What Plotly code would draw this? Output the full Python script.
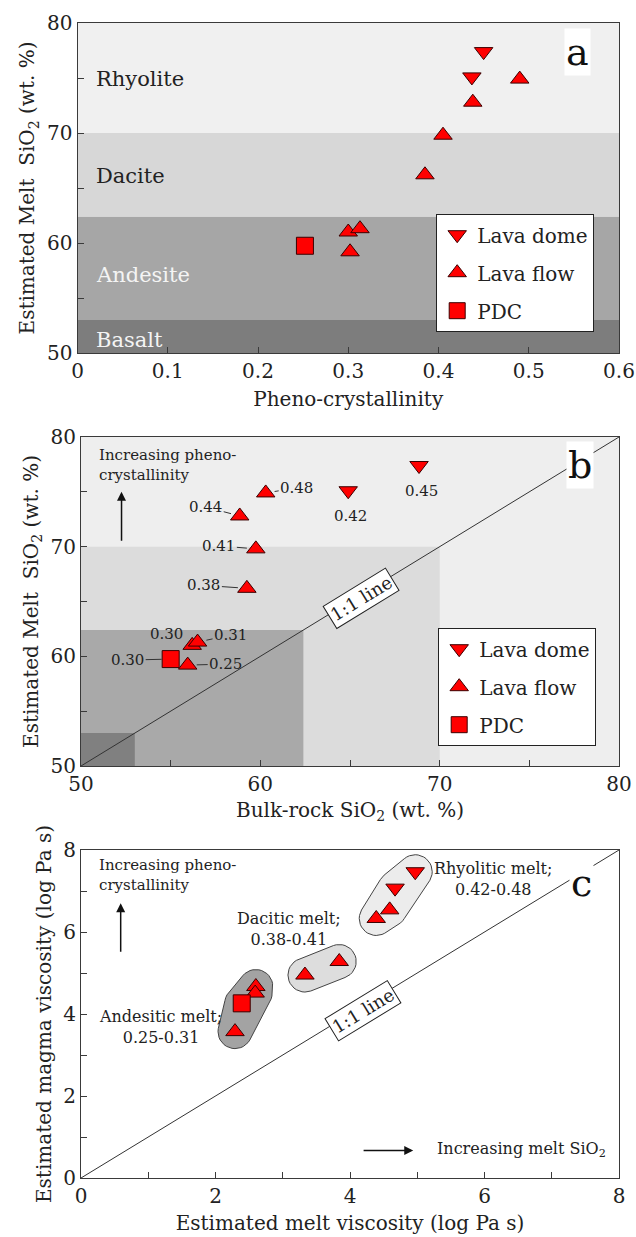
import numpy as np
import plotly.graph_objects as go

FONT = "DejaVu Serif"
RED = "#ff0000"
EDGE = "#3a0000"
AXC = "#3a3a3a"
TXT = "#222222"

# ---------------- data ----------------
# panel a / b : lava dome (triangle-down)
dome_pheno = [0.450, 0.437]
dome_melt = [77.4, 75.1]
dome_bulk = [68.85, 64.9]
dome_labels = ["0.45", "0.42"]

# lava flow (triangle-up)
flow_pheno = [0.490, 0.438, 0.405, 0.385, 0.300, 0.313, 0.302]
flow_melt = [74.9, 72.8, 69.8, 66.2, 61.0, 61.3, 59.2]
flow_bulk = [60.3, 58.85, 59.75, 59.25, 56.2, 56.5, 55.95]
flow_labels = ["0.48", "0.44", "0.41", "0.38", "0.30", "0.31", "0.25"]

# PDC (square)
pdc_pheno = [0.252]
pdc_melt = [59.75]
pdc_bulk = [55.0]
pdc_labels = ["0.30"]

# rock-type boundaries (wt.% SiO2)
band_names = ["Basalt", "Andesite", "Dacite", "Rhyolite"]
band_limits = [50, 53, 62.4, 70, 80]

# panel c : viscosities (log Pa s)
c_dome_melt = [4.97, 4.67]
c_dome_magma = [7.47, 7.07]
c_dome_group = ["R", "R"]
c_flow_melt = [4.59, 4.39, 3.84, 3.33, 2.60, 2.59, 2.29]
c_flow_magma = [6.54, 6.33, 5.28, 4.95, 4.67, 4.51, 3.57]
c_flow_group = ["R", "R", "D", "D", "A", "A", "A"]
c_pdc_melt = [2.39]
c_pdc_magma = [4.26]
c_pdc_group = ["A"]
group_keys = ["A", "D", "R"]
group_names = ["Andesitic melt;<br>0.25-0.31", "Dacitic melt;<br>0.38-0.41",
               "Rhyolitic melt;<br>0.42-0.48"]

one_to_one_b = [50, 80]
one_to_one_c = [0, 8]

# ---------------- styles / layout positions ----------------
band_fill_a = ["#7d7d7d", "#a6a6a6", "#d7d7d7", "#f0f0f0"]
band_text_col = ["#f4f4f4", "#f4f4f4", TXT, TXT]
band_label_y = [51.2, 57.1, 66.1, 74.9]
band_fill_b = ["#808080", "#a9a9a9", "#dcdcdc", "#eeeeee"]
group_fill = {"A": "#a3a3a3", "D": "#dddddd", "R": "#ececec"}
group_label_pos = [(1.18, 3.68), (3.09, 6.07), (6.12, 7.30)]

# label offsets (px) for panel b
dome_off = [(2, 25), (2, 25)]
flow_off = [(31, -5), (-34, -9), (-37, -3), (-43, -3), (-26, -11), (33, -7), (38, -1)]
pdc_off = [(-43, 1)]

W, H = 636, 1237
def px_dom_x(a, b):
    return [a / W, b / W]
def px_dom_y(top, bot):
    return [1 - bot / H, 1 - top / H]

TRI = 16
SQ = 17

fig = go.Figure()

def mk(symbol, size):
    return dict(symbol=symbol, size=size, color=RED, line=dict(color=EDGE, width=1))

# ---- panel a ----
fig.add_trace(go.Scatter(x=dome_pheno, y=dome_melt, mode="markers", name="Lava dome",
                         marker=mk("triangle-down", TRI), xaxis="x", yaxis="y",
                         legend="legend", legendgroup="a1"))
fig.add_trace(go.Scatter(x=flow_pheno, y=flow_melt, mode="markers", name="Lava flow",
                         marker=mk("triangle-up", TRI), xaxis="x", yaxis="y",
                         legend="legend", legendgroup="a2"))
fig.add_trace(go.Scatter(x=pdc_pheno, y=pdc_melt, mode="markers", name="PDC",
                         marker=mk("square", SQ), xaxis="x", yaxis="y",
                         legend="legend", legendgroup="a3"))

# ---- panel b ----
fig.add_trace(go.Scatter(x=one_to_one_b, y=one_to_one_b, mode="lines",
                         line=dict(color="#333333", width=1), showlegend=False,
                         xaxis="x2", yaxis="y2", hoverinfo="skip"))
fig.add_trace(go.Scatter(x=dome_bulk, y=dome_melt, mode="markers", name="Lava dome",
                         marker=mk("triangle-down", TRI), xaxis="x2", yaxis="y2",
                         legend="legend2", legendgroup="b1"))
fig.add_trace(go.Scatter(x=flow_bulk, y=flow_melt, mode="markers", name="Lava flow",
                         marker=mk("triangle-up", TRI), xaxis="x2", yaxis="y2",
                         legend="legend2", legendgroup="b2"))
fig.add_trace(go.Scatter(x=pdc_bulk, y=pdc_melt, mode="markers", name="PDC",
                         marker=mk("square", SQ), xaxis="x2", yaxis="y2",
                         legend="legend2", legendgroup="b3"))

# ---- panel c ----
def rounded_hull(xs, ys, rx, ry, n=36):
    pts = []
    for x, y in zip(xs, ys):
        for t in np.linspace(0, 2 * np.pi, n, endpoint=False):
            pts.append((x + rx * np.cos(t), y + ry * np.sin(t)))
    pts = sorted(set(pts))
    def cross(o, a, b):
        return (a[0] - o[0]) * (b[1] - o[1]) - (a[1] - o[1]) * (b[0] - o[0])
    lower, upper = [], []
    for p in pts:
        while len(lower) >= 2 and cross(lower[-2], lower[-1], p) <= 0:
            lower.pop()
        lower.append(p)
    for p in reversed(pts):
        while len(upper) >= 2 and cross(upper[-2], upper[-1], p) <= 0:
            upper.pop()
        upper.append(p)
    hull = lower[:-1] + upper[:-1]
    hull.append(hull[0])
    return [p[0] for p in hull], [p[1] for p in hull]

all_melt = c_dome_melt + c_flow_melt + c_pdc_melt
all_magma = c_dome_magma + c_flow_magma + c_pdc_magma
all_group = c_dome_group + c_flow_group + c_pdc_group
RPX = 17
rx, ry = RPX / 67.25, RPX / 41.0
for g in group_keys:
    gx = [m for m, k in zip(all_melt, all_group) if k == g]
    gy = [m for m, k in zip(all_magma, all_group) if k == g]
    hx, hy = rounded_hull(gx, gy, rx, ry)
    fig.add_trace(go.Scatter(x=hx, y=hy, mode="lines", fill="toself",
                             fillcolor=group_fill[g], line=dict(color="#444444", width=1),
                             showlegend=False, xaxis="x3", yaxis="y3", hoverinfo="skip"))

fig.add_trace(go.Scatter(x=one_to_one_c, y=one_to_one_c, mode="lines",
                         line=dict(color="#333333", width=1), showlegend=False,
                         xaxis="x3", yaxis="y3", hoverinfo="skip"))
fig.add_trace(go.Scatter(x=c_dome_melt, y=c_dome_magma, mode="markers",
                         marker=mk("triangle-down", TRI), showlegend=False,
                         xaxis="x3", yaxis="y3"))
fig.add_trace(go.Scatter(x=c_flow_melt, y=c_flow_magma, mode="markers",
                         marker=mk("triangle-up", TRI), showlegend=False,
                         xaxis="x3", yaxis="y3"))
fig.add_trace(go.Scatter(x=c_pdc_melt, y=c_pdc_magma, mode="markers",
                         marker=mk("square", SQ), showlegend=False,
                         xaxis="x3", yaxis="y3"))

# ---------------- axes ----------------
def axis(domain, rng, dtick, minor, title, anchor, standoff):
    d = dict(domain=domain, range=rng, dtick=dtick, tick0=rng[0], showline=True,
             linecolor=AXC, linewidth=1.2, mirror=True, ticks="inside", ticklen=6,
             tickcolor=AXC, tickwidth=1, showgrid=False, zeroline=False,
             tickfont=dict(family=FONT, size=20, color=TXT), automargin=False,
             anchor=anchor,
             title=dict(text=title, font=dict(family=FONT, size=20, color=TXT),
                        standoff=standoff))
    if minor:
        d["minor"] = dict(dtick=minor, tick0=rng[0], ticks="inside", ticklen=6,
                          tickcolor=AXC, tickwidth=1, showgrid=False)
    return d

ya_title = "Estimated Melt  SiO<sub>2</sub> (wt. %)"
layout = dict(
    width=W, height=H, margin=dict(l=0, r=0, t=0, b=0),
    paper_bgcolor="white", plot_bgcolor="white",
    font=dict(family=FONT, color=TXT),
    xaxis=axis(px_dom_x(77.5, 619), [0, 0.6], 0.1, None, "Pheno-crystallinity", "y", 9),
    yaxis=axis(px_dom_y(23, 353), [50, 80], 10, 5, ya_title, "x", 6),
    xaxis2=axis(px_dom_x(81, 619), [50, 80], 10, 5, "Bulk-rock SiO<sub>2</sub> (wt. %)", "y2", 7),
    yaxis2=axis(px_dom_y(437, 766), [50, 80], 10, 5, ya_title, "x2", 6),
    xaxis3=axis(px_dom_x(81, 619), [0, 8], 2, 1, "Estimated melt viscosity (log Pa s)", "y3", 8),
    yaxis3=axis(px_dom_y(850, 1178), [0, 8], 2, 1, "Estimated magma viscosity (log Pa s)", "x3", 6),
    legend=dict(x=436 / W, y=1 - 214 / H, xanchor="left", yanchor="top",
                bgcolor="white", bordercolor="#222", borderwidth=1.2,
                font=dict(family=FONT, size=20, color=TXT), tracegroupgap=9,
                itemsizing="trace"),
    legend2=dict(x=438 / W, y=1 - 628 / H, xanchor="left", yanchor="top",
                 bgcolor="white", bordercolor="#222", borderwidth=1.2,
                 font=dict(family=FONT, size=20, color=TXT), tracegroupgap=9,
                 itemsizing="trace"),
    showlegend=True,
)
fig.update_layout(**layout)

shapes = []
# panel a bands
for i, name in enumerate(band_names):
    shapes.append(dict(type="rect", xref="x domain", yref="y", x0=0, x1=1,
                       y0=band_limits[i], y1=band_limits[i + 1],
                       fillcolor=band_fill_a[i], line=dict(width=0), layer="below"))
# panel b nested squares (largest first)
for i in reversed(range(len(band_names))):
    hi = band_limits[i + 1]
    shapes.append(dict(type="rect", xref="x2", yref="y2", x0=band_limits[0], x1=hi,
                       y0=band_limits[0], y1=hi, fillcolor=band_fill_b[i],
                       line=dict(width=0), layer="below"))
fig.update_layout(shapes=shapes)

ann = []
for i, name in enumerate(band_names):
    ann.append(dict(text=name, xref="x", yref="y", x=0.018, y=band_label_y[i],
                    xanchor="left", yanchor="middle", showarrow=False,
                    font=dict(family=FONT, size=21, color=band_text_col[i])))

# panel letters
for letter, xr, yr, xd, yd in [("a", "x domain", "y domain", 0.924, 0.912),
                                ("b", "x2 domain", "y2 domain", 0.9275, 0.915),
                                ("c", "x3 domain", "y3 domain", 0.931, 0.899)]:
    ann.append(dict(text=letter, xref=xr, yref=yr, x=xd, y=yd, showarrow=False,
                    xanchor="center", yanchor="middle", bgcolor="white",
                    font=dict(family=FONT, size=38, color="#111"), borderpad=1))

# panel b point labels
def point_labels(xs, ys, labels, offs, arrow):
    for x, y, lab, (dx, dy) in zip(xs, ys, labels, offs):
        if arrow:
            ann.append(dict(text=lab, xref="x2", yref="y2", x=x, y=y, ax=dx, ay=dy,
                            showarrow=True, arrowhead=0, arrowwidth=1, arrowcolor="#333",
                            standoff=9, font=dict(family=FONT, size=15, color=TXT)))
        else:
            ann.append(dict(text=lab, xref="x2", yref="y2", x=x, y=y, xshift=dx,
                            yshift=-dy, showarrow=False,
                            font=dict(family=FONT, size=15, color=TXT)))
point_labels(dome_bulk, dome_melt, dome_labels, dome_off, False)
point_labels(flow_bulk, flow_melt, flow_labels, flow_off, True)
point_labels(pdc_bulk, pdc_melt, pdc_labels, pdc_off, True)

# 1:1 line boxes
ann.append(dict(text="1:1 line", xref="x2", yref="y2", x=65.6, y=65.3, showarrow=False,
                textangle=-31.5, bgcolor="white", bordercolor="#222", borderwidth=1,
                borderpad=2, font=dict(family=FONT, size=18, color=TXT)))
ann.append(dict(text="1:1 line", xref="x3", yref="y3", x=4.2, y=4.08, showarrow=False,
                textangle=-31.4, bgcolor="white", bordercolor="#222", borderwidth=1,
                borderpad=2, font=dict(family=FONT, size=18, color=TXT)))

# increasing pheno-crystallinity text + arrows
for xr, yr, tx, ty, axx, y0, y1 in [("x2", "y2", 50.9, 77.45, 52.26, 70.4, 75.0),
                                     ("x3", "y3", 0.24, 7.4, 0.59, 5.48, 6.70)]:
    ann.append(dict(text="Increasing pheno-<br>crystallinity", xref=xr, yref=yr, x=tx, y=ty,
                    xanchor="left", yanchor="middle", align="left", showarrow=False,
                    font=dict(family=FONT, size=15, color=TXT)))
    ann.append(dict(text="", xref=xr, yref=yr, axref=xr, ayref=yr, x=axx, y=y1,
                    ax=axx, ay=y0, showarrow=True, arrowhead=2, arrowsize=1.2,
                    arrowwidth=1.5, arrowcolor="#111"))

ann.append(dict(text="Increasing melt SiO<sub>2</sub>", xref="x3", yref="y3", x=5.26, y=0.69,
                xanchor="left", yanchor="middle", showarrow=False,
                font=dict(family=FONT, size=16, color=TXT)))
ann.append(dict(text="", xref="x3", yref="y3", axref="x3", ayref="y3", x=4.94, y=0.67,
                ax=4.18, ay=0.67, showarrow=True, arrowhead=2, arrowsize=1.2,
                arrowwidth=1.5, arrowcolor="#111"))

for name, (gx, gy) in zip(group_names, group_label_pos):
    ann.append(dict(text=name, xref="x3", yref="y3", x=gx, y=gy, showarrow=False,
                    xanchor="center", yanchor="middle", align="center",
                    font=dict(family=FONT, size=16, color=TXT)))

fig.update_layout(annotations=ann)
fig.write_html("out.html")
